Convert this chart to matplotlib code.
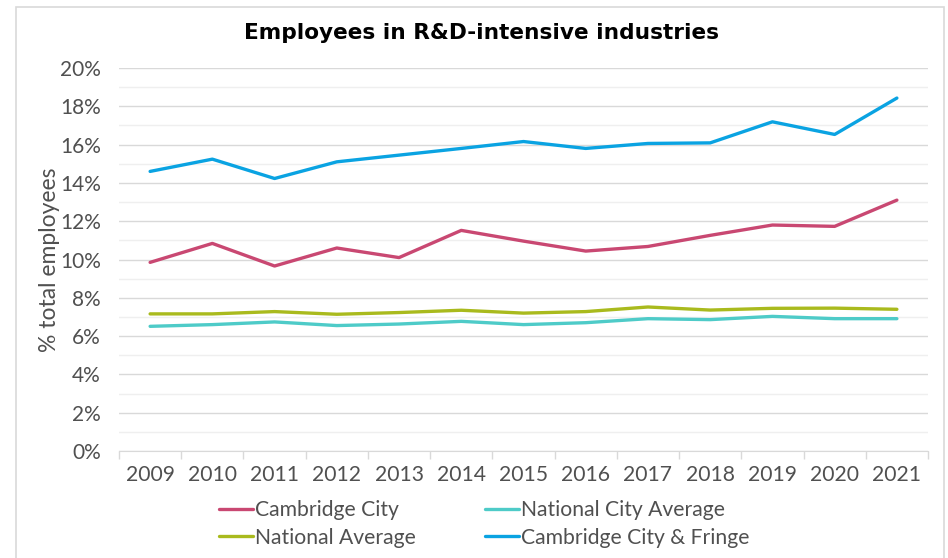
import matplotlib
matplotlib.use('Agg')
import matplotlib.pyplot as plt
from matplotlib import patches
from matplotlib import ticker as mticker
import numpy as np

years = ['2009', '2010', '2011', '2012', '2013', '2014', '2015',
         '2016', '2017', '2018', '2019', '2020', '2021']

cambridge_city = [9.85, 10.84, 9.66, 10.6, 10.1, 11.52, 10.96,
                  10.44, 10.68, 11.26, 11.8, 11.73, 13.1]
national_city_avg = [6.51, 6.6, 6.74, 6.55, 6.63, 6.77, 6.6,
                     6.7, 6.91, 6.86, 7.03, 6.91, 6.91]
national_avg = [7.16, 7.16, 7.28, 7.14, 7.23, 7.35, 7.2,
                7.28, 7.52, 7.36, 7.45, 7.46, 7.4]
city_fringe = [14.6, 15.24, 14.23, 15.1, 15.45, 15.8, 16.16,
               15.8, 16.06, 16.09, 17.19, 16.53, 18.43]

plt.rcParams['font.family'] = ['Lato', 'DejaVu Sans']
txt_col = '#505050'
fs = 15.2

fig = plt.figure(figsize=(9.48, 5.58), dpi=100)
ax = fig.add_axes([119/948, 1 - 451/558, (928-119)/948, (451-68)/558])

x = np.arange(len(years))
lw = 2.4
ax.plot(x, np.array(cambridge_city) / 100, color='#C94872', lw=lw, label='Cambridge City', solid_capstyle='round')
ax.plot(x, np.array(national_avg) / 100, color='#A9BA1D', lw=lw, label='National Average', solid_capstyle='round')
ax.plot(x, np.array(national_city_avg) / 100, color='#4ECBC8', lw=lw, label='National City Average', solid_capstyle='round')
ax.plot(x, np.array(city_fringe) / 100, color='#0AA3E2', lw=lw, label='Cambridge City & Fringe', solid_capstyle='round')

ax.set_xlim(-0.5, len(years) - 0.5)
ax.set_ylim(0, 0.2)
ax.yaxis.set_major_locator(mticker.MultipleLocator(0.02))
ax.yaxis.set_minor_locator(mticker.MultipleLocator(0.01))
ax.yaxis.set_major_formatter(mticker.FuncFormatter(lambda v, p: '%d%%' % round(v * 100)))
ax.grid(axis='y', which='major', color='#d9d9d9', lw=1)
ax.grid(axis='y', which='minor', color='#efefef', lw=1)
ax.set_axisbelow(True)

ax.set_xticks(x)
ax.set_xticklabels(years)
ax.set_xticks(np.arange(-0.5, len(years)), minor=True)
ax.tick_params(axis='x', which='major', length=0, pad=10, labelsize=fs, labelcolor=txt_col)
ax.tick_params(axis='x', which='minor', length=6, color='#d9d9d9', width=1)
ax.tick_params(axis='y', which='both', length=0, pad=13, labelsize=15, labelcolor=txt_col)

for s in ['top', 'right', 'left']:
    ax.spines[s].set_visible(False)
ax.spines['bottom'].set_color('#d9d9d9')

ax.set_ylabel('% total employees', fontsize=16.5, color=txt_col, labelpad=0)

fig.text(0.508, 1 - 33/558, 'Employees in R&D-intensive industries', ha='center', va='center',
         fontsize=15.6, fontweight='bold', color='black', family='DejaVu Sans')

handles, labels = ax.get_legend_handles_labels()
leg = fig.legend(handles, labels,
                 loc='center', bbox_to_anchor=(0.511, 1 - 524/558), ncol=2, frameon=False,
                 handlelength=1.6, handletextpad=0.08, columnspacing=3.3,
                 labelspacing=0.35, prop={'size': fs})
for t in leg.get_texts():
    t.set_color(txt_col)

fig.add_artist(patches.Rectangle((16/948, -0.05), (944-16)/948, 1.05 - 7/558,
                                 transform=fig.transFigure, fill=False,
                                 edgecolor='#d9d9d9', lw=1.2))

fig.savefig('out.png', dpi=100)
